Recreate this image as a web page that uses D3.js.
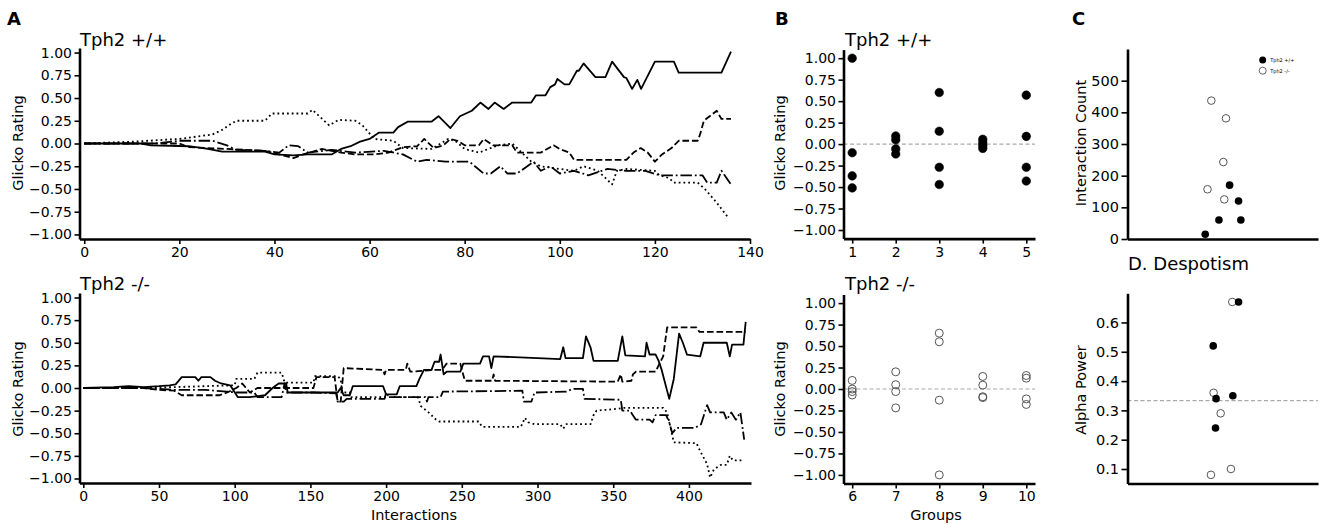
<!DOCTYPE html>
<html>
<head>
<meta charset="utf-8">
<script src="https://cdn.jsdelivr.net/npm/d3@7"></script>
<style>
  body { margin: 0; background: #fff; }
  text { font-family: 'DejaVu Sans', sans-serif; }
</style>
</head>
<body>
<script>
// ---- data ----
// A, Tph2 +/+ : glicko rating vs interaction number (x, rating)
const wtSolid = [[0,0],[12,0],[14,-0.02],[22,-0.03],[26,-0.06],[29,-0.09],[38,-0.09],[40,-0.12],[44,-0.13],[47,-0.12],[52,-0.12],[54,-0.06],[56,-0.03],[58,0.02],[60,0.05],[62,0.12],[65,0.12],[66,0.18],[68,0.24],[73,0.24],[74.5,0.3],[77,0.17],[79,0.3],[81.5,0.36],[83.3,0.45],[85,0.38],[86.3,0.45],[88.2,0.38],[90,0.45],[94,0.45],[95,0.53],[97,0.53],[98,0.62],[99,0.65],[99.5,0.71],[101,0.65],[102,0.65],[103.6,0.8],[104,0.8],[105,0.88],[107.5,0.73],[109.6,0.73],[111,0.9],[113.5,0.73],[114,0.72],[115.2,0.6],[116.3,0.7],[117.1,0.6],[120,0.9],[124,0.9],[125,0.78],[134,0.78],[136,1.01]];
const wtDashed = [[0,0],[20,0],[22,-0.04],[30,-0.06],[38,-0.08],[41,-0.12],[44,-0.16],[46,-0.12],[50,-0.06],[54,-0.1],[57,-0.12],[61,-0.12],[64,-0.1],[67,-0.04],[70,-0.03],[71.5,0.05],[73.5,-0.05],[75.5,-0.02],[77,0.05],[78.5,0.03],[80,-0.02],[83,-0.02],[84,0.05],[86,-0.02],[90,-0.02],[91,-0.1],[96,-0.1],[98.7,-0.02],[100,-0.06],[102,-0.1],[103,-0.18],[114,-0.18],[115.5,-0.1],[117,-0.05],[118.5,-0.1],[120,-0.2],[121.5,-0.12],[123.5,-0.05],[125,0.03],[129,0.03],[129.5,0.1],[130.3,0.25],[133,0.36],[134,0.27],[136,0.27]];
const wtDotted = [[0,0],[10,0.02],[20,0.05],[27,0.1],[29,0.15],[31,0.22],[32,0.25],[38,0.25],[39.5,0.33],[47,0.33],[48,0.37],[51.5,0.2],[53.5,0.26],[57,0.25],[58.5,0.2],[61,0.05],[65,0.03],[67,-0.05],[73,-0.06],[75,0.0],[76.5,0.05],[78,0.03],[80,-0.06],[83,-0.1],[85,-0.06],[87,-0.02],[90,0.0],[92,-0.1],[94,-0.2],[96,-0.25],[100,-0.28],[103,-0.3],[105,-0.25],[108,-0.3],[111,-0.45],[112,-0.3],[114,-0.28],[120,-0.3],[121,-0.35],[123,-0.38],[124,-0.43],[129,-0.43],[130.5,-0.5],[133,-0.65],[135.5,-0.82]];
const wtDashDot = [[0,0],[15,0],[20,0.03],[27,0.03],[30,-0.02],[32,-0.07],[38,-0.08],[41,-0.1],[43,-0.02],[45,-0.03],[47,-0.1],[52,-0.07],[57,-0.1],[63,-0.08],[67,-0.12],[70,-0.2],[72,-0.18],[76,-0.2],[81,-0.2],[84,-0.33],[85.5,-0.33],[87.5,-0.25],[89,-0.33],[91,-0.33],[94.5,-0.2],[96,-0.3],[98,-0.25],[100,-0.33],[103,-0.3],[106,-0.35],[110,-0.28],[114,-0.3],[118,-0.3],[121,-0.35],[130,-0.35],[131,-0.43],[133,-0.43],[134,-0.3],[136,-0.45]];

// A, Tph2 -/-
const koSolid = [[0,0],[20,0.01],[30,0.02],[40,0.01],[50,0.02],[57,0.03],[61,0.04],[65,0.12],[74,0.12],[76,0.08],[78,0.12],[84,0.12],[87,0.08],[91,0.05],[97,0.03],[102,-0.1],[110,-0.1],[120,-0.08],[125,0.0],[129,0.05],[134,0.05],[135,-0.05],[152,-0.05],[168,-0.05],[170,0.0],[172,-0.08],[176,-0.08],[178,0.02],[198,0.02],[200,-0.07],[207,-0.07],[209,0.02],[220,0.02],[222,0.1],[225,0.2],[230,0.2],[232,0.29],[235,0.29],[236,0.37],[238,0.15],[240,0.18],[249,0.18],[251,0.27],[262,0.27],[264,0.35],[268,0.35],[269.5,0.22],[271,0.35],[300,0.33],[315,0.32],[317,0.45],[318.5,0.33],[330,0.33],[332,0.57],[335,0.45],[337,0.3],[353,0.3],[356,0.57],[358,0.36],[371,0.35],[372,0.5],[374,0.37],[378,0.37],[380,0.3],[382,0.2],[387,-0.12],[390,0.1],[393.5,0.6],[396,0.5],[398.7,0.37],[407.5,0.35],[409.7,0.5],[425,0.5],[427,0.35],[428.5,0.48],[436,0.48],[437.5,0.73]];
const koDashed = [[0,0],[40,0.0],[50,-0.02],[60,-0.03],[65,-0.08],[90,-0.08],[95,-0.05],[101,0.0],[105,0.05],[110,-0.05],[115,0.0],[135,0.0],[152,0.0],[154,0.12],[166,0.12],[168,-0.15],[170,-0.15],[172,0.22],[198,0.2],[199,0.15],[200,0.2],[213,0.2],[214,0.27],[216,0.18],[231,0.2],[237,0.2],[240,0.27],[249,0.27],[252,0.08],[270,0.08],[271,0.15],[272,0.08],[353,0.07],[355,0.15],[356,0.07],[362,0.08],[363,0.15],[365,0.18],[378,0.18],[380,0.25],[383,0.35],[385.6,0.67],[405,0.67],[407,0.62],[437.5,0.62]];
const koDotted = [[0,0],[40,0.0],[60,0.01],[80,0.02],[100,0.03],[101,0.1],[113,0.1],[115,0.17],[131,0.17],[133,0.06],[152,0.06],[153,0.13],[168,0.13],[170,0.1],[171,-0.05],[176,-0.05],[177,-0.1],[221,-0.1],[223,-0.2],[228,-0.27],[233,-0.35],[235,-0.37],[261,-0.37],[263.5,-0.43],[289,-0.43],[291.7,-0.33],[294,-0.38],[298,-0.4],[315,-0.4],[317,-0.45],[319,-0.4],[335,-0.4],[337,-0.3],[339,-0.25],[353,-0.23],[357,-0.22],[383,-0.22],[385.6,-0.27],[390,-0.6],[405,-0.61],[407.5,-0.7],[412,-0.84],[414,-0.99],[416.5,-0.9],[421,-0.85],[425,-0.85],[427,-0.75],[429,-0.8],[433,-0.8],[436,-0.8]];
const koDashDot = [[0,0],[40,0.0],[50,-0.01],[60,-0.02],[80,-0.02],[95,-0.04],[101,-0.05],[113,-0.05],[115,-0.1],[131,-0.1],[133,0.05],[134,-0.05],[152,-0.05],[167,-0.06],[168,-0.15],[172,-0.15],[174,-0.12],[199,-0.12],[200,-0.05],[202,-0.1],[226,-0.1],[227,-0.15],[228,-0.1],[236,-0.1],[237.5,-0.04],[290,-0.03],[291,-0.15],[296,-0.15],[298,-0.05],[319,-0.04],[323,-0.01],[330,-0.01],[331,-0.12],[355,-0.13],[356,-0.25],[361,-0.25],[363,-0.3],[365,-0.35],[374,-0.35],[376,-0.38],[378,-0.3],[385,-0.3],[387,-0.38],[389,-0.5],[392,-0.44],[404,-0.44],[408,-0.4],[412,-0.19],[414,-0.27],[423,-0.27],[425,-0.35],[428,-0.27],[431,-0.35],[434,-0.27],[436.5,-0.57]];

// B, final ratings per group
const wtGroups = [1, 2, 3, 4, 5];
const wtRatings = [
  [1.00, -0.10, -0.37, -0.51],
  [0.095, 0.05, -0.056, -0.115],
  [0.60, 0.15, -0.27, -0.47],
  [0.056, 0.017, -0.017, -0.05],
  [0.57, 0.09, -0.27, -0.43]
];
const koGroups = [6, 7, 8, 9, 10];
const koRatings = [
  [0.10, 0.0, -0.03, -0.07],
  [0.20, 0.05, -0.03, -0.22],
  [0.65, 0.55, -0.13, -1.00],
  [0.146, 0.045, -0.09, -0.10],
  [0.157, 0.126, -0.115, -0.18]
];

// C, interaction count per group (strip jitter as read)
const wtCount = [15, 60, 170, 120, 60];
const wtCountJit = [-0.092, -0.02, 0.036, 0.083, 0.095];
const koCount = [437, 381, 243, 157, 125];
const koCountJit = [-0.06, 0.017, 0.003, -0.08, 0.008];

// D, alpha power per group
const wtAlpha = [0.67, 0.52, 0.34, 0.35, 0.24];
const wtAlphaJit = [0.083, -0.05, -0.035, 0.053, -0.038];
const koAlpha = [0.67, 0.36, 0.29, 0.10, 0.08];
const koAlphaJit = [0.05, -0.048, -0.011, 0.043, -0.062];
const alphaRef = 1 / 3;

const aTopTicks = [0, 20, 40, 60, 80, 100, 120, 140];
const aBotTicks = [0, 50, 100, 150, 200, 250, 300, 350, 400];
const ratingTicks = [-1, -0.75, -0.5, -0.25, 0, 0.25, 0.5, 0.75, 1];
const countTicks = [0, 100, 200, 300, 400, 500];
const alphaTicks = [0.1, 0.2, 0.3, 0.4, 0.5, 0.6];

// ---- drawing ----
const W = 1325, H = 527;
const svg = d3.select('body').append('svg')
    .attr('width', W)
    .attr('height', H);

const lw = 1.8;
const dashes = {
    solid: null,
    dashed: `${3.7 * lw},${1.6 * lw}`,
    dotted: `${1 * lw},${1.65 * lw}`,
    dashdot: `${6.4 * lw},${1.6 * lw},${1 * lw},${1.6 * lw}`
};

function styleAxis(sel, fontSize) {
    sel.select('.domain').attr('stroke', '#000').attr('stroke-width', 2.6);
    sel.selectAll('.tick line').attr('stroke', '#000').attr('stroke-width', 1.6);
    sel.selectAll('.tick text').attr('fill', '#000')
        .style('font-family', 'DejaVu Sans')
        .style('font-size', fontSize + 'px');
}

function drawAxes(x, y, opt) {
    const g = svg.append('g');
    const [b, t] = y.range();
    const [l, r] = x.range();
    const xa = g.append('g')
        .attr('transform', `translate(0,${b})`)
        .call(d3.axisBottom(x).tickValues(opt.xTicks).tickSize(opt.xTicks.length ? 5 : 0)
            .tickSizeOuter(0).tickPadding(3).tickFormat(opt.xFmt || d3.format('d')));
    styleAxis(xa, opt.fs);
    const ya = g.append('g')
        .attr('transform', `translate(${l},0)`)
        .call(d3.axisLeft(y).tickValues(opt.yTicks).tickSize(opt.ts || 5)
            .tickSizeOuter(0).tickPadding(2.5).tickFormat(opt.yFmt));
    styleAxis(ya, opt.fs);
    return g;
}

function label(text, x, y, size, rotate, anchor, weight) {
    svg.append('text')
        .attr('transform', `translate(${x},${y})` + (rotate ? ' rotate(-90)' : ''))
        .attr('text-anchor', anchor || 'middle')
        .attr('font-size', size)
        .attr('font-weight', weight || 'normal')
        .attr('fill', '#000')
        .text(text);
}

const fmt2 = d3.format('.2f');

// panel A
function linePanel(x, y, series, ticks) {
    const line = d3.line().x(d => x(d[0])).y(d => y(d[1]));
    const g = svg.append('g');
    series.forEach(s => {
        g.append('path')
            .datum(s.data)
            .attr('d', line)
            .attr('fill', 'none')
            .attr('stroke', '#000')
            .attr('stroke-width', lw)
            .attr('stroke-linejoin', 'round')
            .attr('stroke-dasharray', dashes[s.style]);
    });
    drawAxes(x, y, { xTicks: ticks, yTicks: ratingTicks, yFmt: fmt2, fs: 14 });
}

const xAT = d3.scaleLinear([-1, 140], [79.5, 750]);
const yAT = d3.scaleLinear([-1.05, 1.05], [239, 48]);
linePanel(xAT, yAT, [
    { data: wtSolid, style: 'solid' },
    { data: wtDashed, style: 'dashed' },
    { data: wtDotted, style: 'dotted' },
    { data: wtDashDot, style: 'dashdot' }
], aTopTicks);

const xAB = d3.scaleLinear([-2.5, 441], [79.5, 751]);
const yAB = d3.scaleLinear([-1.05, 1.05], [483, 293]);
linePanel(xAB, yAB, [
    { data: koSolid, style: 'solid' },
    { data: koDashed, style: 'dashed' },
    { data: koDotted, style: 'dotted' },
    { data: koDashDot, style: 'dashdot' }
], aBotTicks);

// panel B
function groupPanel(x, y, groups, ratings, open) {
    const g = svg.append('g');
    g.append('line')
        .attr('x1', x.range()[0]).attr('x2', x.range()[1])
        .attr('y1', y(0)).attr('y2', y(0))
        .attr('stroke', '#aaa').attr('stroke-width', 1.2)
        .attr('stroke-dasharray', '4,2.5');
    const pts = groups.flatMap((gr, i) => ratings[i].map(v => ({ gr, v })));
    g.selectAll('circle')
        .data(pts)
        .enter()
        .append('circle')
        .attr('cx', d => x(d.gr))
        .attr('cy', d => y(d.v))
        .attr('r', open ? 4 : 4.3)
        .attr('fill', open ? 'none' : '#000')
        .attr('stroke', open ? '#555' : '#000')
        .attr('stroke-width', open ? 1 : 0.5);
    drawAxes(x, y, { xTicks: groups, yTicks: ratingTicks, yFmt: fmt2, fs: 14 });
}

const yBT = d3.scaleLinear([-1.1, 1.1], [238.6, 49.6]);
const yBB = d3.scaleLinear([-1.1, 1.1], [483.5, 294.5]);
groupPanel(d3.scaleLinear([0.8, 5.2], [843.5, 1035]), yBT, wtGroups, wtRatings, false);
groupPanel(d3.scaleLinear([5.8, 10.2], [843.5, 1035]), yBB, koGroups, koRatings, true);

// panels C and D
const xC = d3.scaleLinear([-0.5, 0.5], [1127.5, 1318]);

function stripPanel(y, ticks, yFmt, filled, filledJit, open, openJit) {
    const g = svg.append('g');
    g.selectAll('.ko')
        .data(open.map((v, i) => ({ v, j: openJit[i] })))
        .enter()
        .append('circle')
        .attr('cx', d => xC(d.j))
        .attr('cy', d => y(d.v))
        .attr('r', 3.8)
        .attr('fill', '#fff')
        .attr('stroke', '#555')
        .attr('stroke-width', 1);
    g.selectAll('.wt')
        .data(filled.map((v, i) => ({ v, j: filledJit[i] })))
        .enter()
        .append('circle')
        .attr('cx', d => xC(d.j))
        .attr('cy', d => y(d.v))
        .attr('r', 3.8)
        .attr('fill', '#000');
    drawAxes(xC, y, { xTicks: [], yTicks: ticks, yFmt: yFmt, fs: 14.5, ts: 6 });
    return g;
}

const yC = d3.scaleLinear([0, 600], [239, 49]);
stripPanel(yC, countTicks, d3.format('d'), wtCount, wtCountJit, koCount, koCountJit);

const alphaAll = wtAlpha.concat(koAlpha);
const [aMin, aMax] = d3.extent(alphaAll);
const aPad = (aMax - aMin) * 0.05;
const yD = d3.scaleLinear([aMin - aPad, aMax + aPad], [483.5, 293.3]);
svg.append('line')
    .attr('x1', xC.range()[0]).attr('x2', xC.range()[1])
    .attr('y1', yD(alphaRef)).attr('y2', yD(alphaRef))
    .attr('stroke', '#aaa').attr('stroke-width', 1.2)
    .attr('stroke-dasharray', '4,2.5');
stripPanel(yD, alphaTicks, d3.format('.1f'), wtAlpha, wtAlphaJit, koAlpha, koAlphaJit);

// legend in C
const legend = svg.append('g').attr('transform', 'translate(1262.7,60)');
legend.append('circle').attr('r', 3.5).attr('fill', '#000');
legend.append('circle').attr('cy', 10.7).attr('r', 3.5)
    .attr('fill', '#fff').attr('stroke', '#555').attr('stroke-width', 0.9);
legend.append('text').attr('x', 7.5).attr('y', 1.8).attr('font-size', 5).text('Tph2 +/+');
legend.append('text').attr('x', 7.5).attr('y', 12.5).attr('font-size', 5).text('Tph2 -/-');

// titles and labels
label('A', 7, 25, 18, false, 'start', 'bold');
label('B', 775, 25, 18, false, 'start', 'bold');
label('C', 1072, 25, 18, false, 'start', 'bold');

label('Tph2 +/+', 80, 46, 18, false, 'start');
label('Tph2 -/-', 80, 290, 18, false, 'start');
label('Tph2 +/+', 845, 46, 18, false, 'start');
label('Tph2 -/-', 845, 290, 18, false, 'start');
label('D. Despotism', 1128, 270, 18, false, 'start');

label('Glicko Rating', 23, 143, 14.5, true);
label('Glicko Rating', 23, 389, 14.5, true);
label('Glicko Rating', 785, 143, 14.5, true);
label('Glicko Rating', 785, 389, 14.5, true);
label('Interaction Count', 1086, 143, 14.5, true);
label('Alpha Power', 1086, 390, 14.5, true);

label('Interactions', 414, 520, 14.5);
label('Groups', 936, 520, 14.5);
</script>
</body>
</html>
